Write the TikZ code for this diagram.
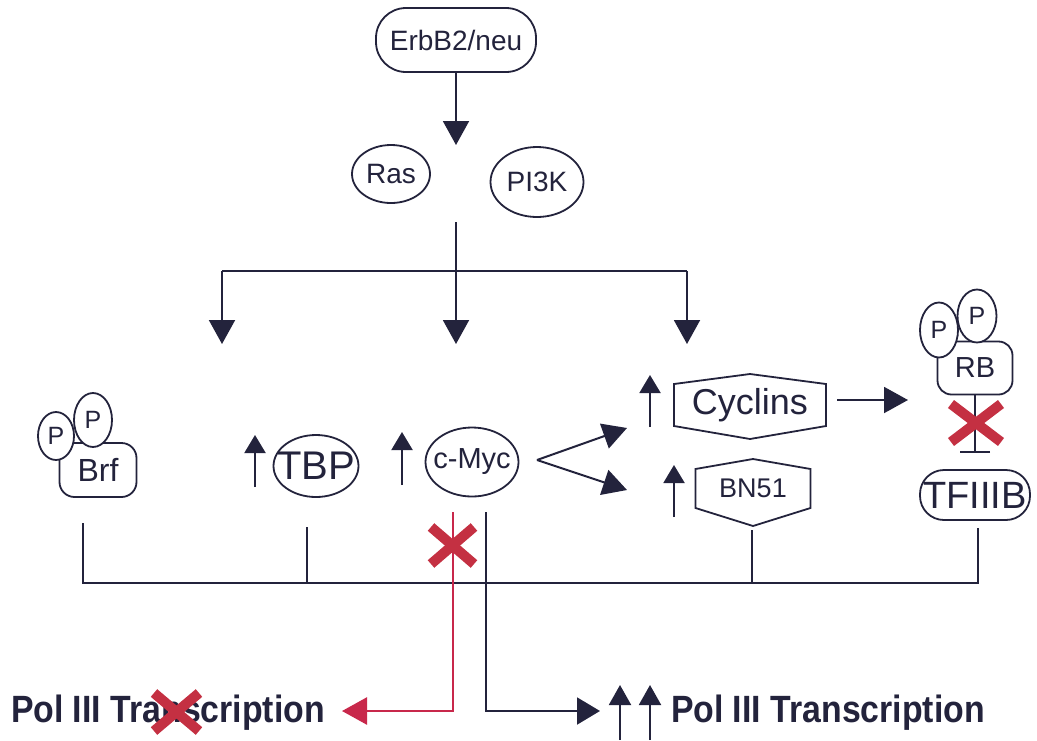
\documentclass[tikz,border=0pt]{standalone}
\usepackage{fontspec}
\setmainfont{Liberation Sans}
\newfontfamily\cond{Liberation Sans}[FakeStretch=0.89]
\usetikzlibrary{arrows.meta,shapes.geometric}
\definecolor{ink}{RGB}{35,35,60}
\definecolor{xred}{RGB}{196,48,66}
\definecolor{lred}{RGB}{200,40,75}
\newcommand{\fs}[1]{\fontsize{#1}{#1}\selectfont}
\newcommand{\zb}[1]{\makebox[0pt]{#1}}
\tikzset{
  ov/.style={ellipse, draw, inner sep=0pt, line width=1.8pt, fill=white},
  rbox/.style={rectangle, draw, inner sep=0pt, line width=1.8pt, fill=white},
  hexlbl/.style={rectangle, inner sep=0pt},
  hexline/.style={line width=1.8pt, line join=miter},
  big/.style={-{Triangle[length=24pt,width=26pt]}},
  upar/.style={-{Triangle[length=18pt,width=21pt]}},
  upbig/.style={-{Triangle[length=20pt,width=22pt]}},
  xmark/.style={xred, line width=10pt},
  inhib/.style={-{Bar[width=30pt,line width=2pt]}},
}
\begin{document}
\begin{tikzpicture}[x=1pt,y=-1pt,color=ink,line width=2pt]
\useasboundingbox (0,0) rectangle (1037,740);

% top
\node[rbox, rounded corners=30pt, minimum width=160pt, minimum height=64pt] (erb) at (456,40) {\fs{28}ErbB2/neu};
\coordinate (rp) at (456,145);
\draw[big] (erb.south) -- (rp);
\node[ov, minimum width=78pt, minimum height=58pt] (ras) at (391,174) {\fs{28}\zb{Ras}};
\node[ov, minimum width=93pt, minimum height=70pt] (pi3k) at (537,182) {\fs{28}\zb{PI3K}};

% branch
\coordinate (stem) at (456,222);
\coordinate (hL) at (222,271);
\coordinate (hR) at (687,271);
\coordinate (tL) at (222,344);
\coordinate (tM) at (456,344);
\coordinate (tR) at (687,344);
\draw (hL) -- (hR);
\draw[big] (stem) -- (tM);
\draw[big] (hL) -- (tL);
\draw[big] (hR) -- (tR);

% Brf
\node[rbox, rounded corners=15pt, minimum width=77pt, minimum height=54pt] (brf) at (98,470) {\fs{32}Brf};
\node[ov, minimum width=36pt, minimum height=48pt] (bp1) at (56,436) {\fs{25}\zb{P}};
\node[ov, minimum width=38pt, minimum height=54pt] (bp2) at (93,420) {\fs{25}\zb{P}};

% TBP
\coordinate (tbpu0) at (255,487);
\coordinate (tbpu1) at (255,435);
\draw[upar] (tbpu0) -- (tbpu1);
\node[ov, minimum width=85pt, minimum height=62pt] (tbp) at (316,466) {\fs{40}\zb{TBP}};

% c-Myc
\coordinate (mycu0) at (402,485);
\coordinate (mycu1) at (402,432);
\draw[upar] (mycu0) -- (mycu1);
\node[ov, minimum width=93pt, minimum height=69pt] (myc) at (472,462) {\fs{29}\zb{c-Myc}};
\coordinate (mv) at (537,460);
\coordinate (mu) at (627,428);
\coordinate (md) at (627,490);
\draw[big] (mv) -- (mu);
\draw[big] (mv) -- (md);

% Cyclins
\coordinate (cycu0) at (650,427);
\coordinate (cycu1) at (650,375);
\draw[upar] (cycu0) -- (cycu1);
\node[hexlbl, minimum width=150pt, minimum height=40pt] (cyc) at (750,405) {\fs{36}Cyclins};
\draw[hexline] (cyc.north west) -- ([yshift=10pt]cyc.north) -- (cyc.north east) -- (cyc.south east) -- ([yshift=-13pt]cyc.south) -- (cyc.south west) -- cycle;

% BN51
\coordinate (bnu0) at (674,517);
\coordinate (bnu1) at (674,465);
\draw[upar] (bnu0) -- (bnu1);
\node[hexlbl, minimum width=113pt, minimum height=37pt] (bn) at (753,488.5) {\fs{27}BN51};
\draw[hexline] (bn.north west) -- ([yshift=10pt]bn.north) -- (bn.north east) -- (bn.south east) -- ([yshift=-18pt]bn.south) -- (bn.south west) -- cycle;

% RB
\node[rbox, rounded corners=14pt, minimum width=75pt, minimum height=53pt] (rb) at (975,368) {\fs{29}RB};
\node[ov, minimum width=38pt, minimum height=55pt] (rp1) at (939,330) {\fs{25}\zb{P}};
\node[ov, minimum width=39pt, minimum height=53pt] (rp2) at (977,316) {\fs{25}\zb{P}};
\coordinate (cr0) at (837,400);
\coordinate (cr1) at (908,400);
\draw[big] (cr0) -- (cr1);
\coordinate (rbbar) at (975,453);
\draw[inhib] (rb.south) -- (rbbar);
\draw[xmark] (951,404) -- (1001,442);
\draw[xmark] (1001,404) -- (951,442);

% TFIIIB
\node[rbox, rounded corners=24pt, minimum width=110pt, minimum height=50pt] (tf) at (975,495) {\fs{38}TFIIIB};

% base line
\coordinate (b0) at (83,583);
\coordinate (b1) at (978,583);
\coordinate (brfd) at (83,523);
\coordinate (tbpd) at (307,527);
\coordinate (tbpb) at (307,583);
\coordinate (bnd) at (752,530);
\coordinate (bnb) at (752,583);
\coordinate (tfd) at (978,528);
\draw (brfd) -- (b0) -- (b1) -- (tfd);
\draw (tbpd) -- (tbpb);
\draw (bnd) -- (bnb);

% outputs
\coordinate (k0) at (486,512);
\coordinate (ktip) at (600,711);
\draw[-{Triangle[length=23pt,width=27pt]}] (k0) |- (ktip);
\coordinate (r0) at (453,512);
\coordinate (rtip) at (342,711);
\draw[lred, line width=2.5pt, -{Triangle[length=25pt,width=27pt]}] (r0) |- (rtip);
\draw[xmark] (431,527) -- (474,564);
\draw[xmark] (474,527) -- (431,564);

\coordinate (u1a) at (620,740);
\coordinate (u1b) at (620,685);
\coordinate (u2a) at (650,740);
\coordinate (u2b) at (650,685);
\draw[upbig] (u1a) -- (u1b);
\draw[upbig] (u2a) -- (u2b);

\node[anchor=base west, inner sep=0pt] (lt) at (10,722) {\cond\bfseries\fs{38}Pol III Transcription};
\node[anchor=base west, inner sep=0pt] (rt) at (670,722) {\cond\bfseries\fs{38}Pol III Transcription};
\draw[xmark] (154,693) -- (199,731);
\draw[xmark] (199,693) -- (154,731);
\end{tikzpicture}
\end{document}
